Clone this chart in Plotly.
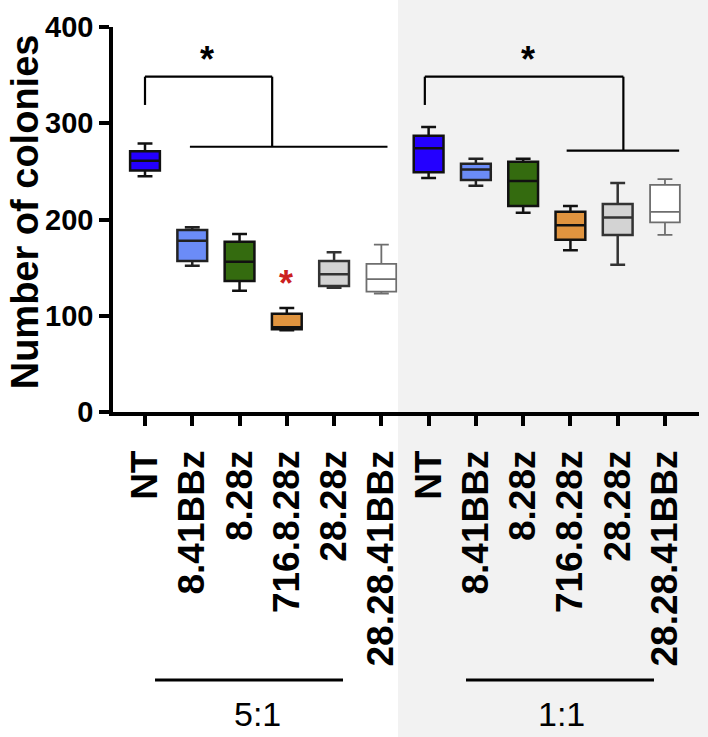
import plotly.graph_objects as go

# Colony counts per construct (5:1 group first, then 1:1)
labels = ['NT', '8.41BBz', '8.28z', '716.8.28z', '28.28z', '28.28.41BBz',
          'NT', '8.41BBz', '8.28z', '716.8.28z', '28.28z', '28.28.41BBz']
lower = [245, 152, 126, 85, 129, 123, 243, 235, 207, 168, 153, 184]
q1 = [251, 157, 136, 86, 131, 125, 249, 241, 214, 179, 184, 197]
median = [261, 178, 156, 88, 143, 138, 274, 252, 240, 194, 202, 208]
q3 = [271, 189, 177, 102, 157, 154, 287, 258, 260, 208, 216, 236]
upper = [279, 192, 185, 108, 166, 174, 296, 263, 263, 214, 238, 242]

ratios = ['5:1', '1:1']

fills = ['#2400ff', '#6b8cf7', '#346b0f', '#e0943f', '#d3d3d3', '#ffffff'] * 2
edges = ['#111111', '#222222', '#111111', '#111111', '#333333', '#6e6e6e'] * 2

fig = go.Figure()

# one box trace per construct so each gets its own colour
for i in range(len(labels)):
    fig.add_trace(go.Box(x=[i], q1=[q1[i]], median=[median[i]], q3=[q3[i]],
                         lowerfence=[lower[i]], upperfence=[upper[i]],
                         width=0.63, whiskerwidth=0.5,
                         fillcolor=fills[i],
                         line=dict(color=edges[i], width=2.5 if i % 6 != 5 else 1.8),
                         boxpoints=False, hoverinfo='skip', showlegend=False))

# grey panel behind the 1:1 group
fig.add_shape(type='rect', xref='paper', yref='paper',
              x0=0.4863, x1=1.02, y0=-0.85, y1=1.08,
              fillcolor='#f2f2f2', line_width=0, layer='below')

# significance brackets
bracket = dict(color='black', width=2.2)
for x0, x1, xl0, xl1, yl in [(0, 2.69, 0.95, 5.13, 275.6), (5.92, 10.12, 8.92, 11.30, 271.5)]:
    fig.add_shape(type='line', x0=x0, x1=x0, y0=319, y1=348.4, line=bracket)
    fig.add_shape(type='line', x0=x0, x1=x1, y0=348.4, y1=348.4, line=bracket)
    fig.add_shape(type='line', x0=x1, x1=x1, y0=348.4, y1=yl, line=bracket)
    fig.add_shape(type='line', x0=xl0, x1=xl1, y0=yl, y1=yl, line=bracket)

star_font = dict(family='Liberation Sans, Arial', size=36, color='black', weight='bold')
fig.add_annotation(x=1.305, y=371, text='*', showarrow=False, font=star_font, yshift=-5)
fig.add_annotation(x=8.11, y=371, text='*', showarrow=False, font=star_font, yshift=-5)
fig.add_annotation(x=2.975, y=137, text='*', showarrow=False,
                   font=dict(star_font, color='#cc1f1f'), yshift=-3)

# group underlines and ratio labels
for x0, x1, xt, txt in [(0.0717, 0.3925, 0.2474, ratios[0]), (0.6024, 0.9232, 0.766, ratios[1])]:
    fig.add_shape(type='line', xref='paper', yref='paper', x0=x0, x1=x1,
                  y0=-0.696, y1=-0.696, line=dict(color='black', width=3))
    fig.add_annotation(xref='paper', yref='paper', x=xt, y=-0.785, text=txt,
                       xanchor='center', yanchor='middle', showarrow=False,
                       font=dict(family='Liberation Sans, Arial', size=34, color='black'))

# y axis title (kept just inside the left edge)
fig.add_annotation(xref='paper', yref='paper', x=-0.150, y=0.519, text='Number of colonies',
                   textangle=-90, xanchor='center', yanchor='middle', showarrow=False,
                   font=dict(family='Liberation Sans, Arial', size=38, color='black', weight='bold'))

fig.update_xaxes(range=[-0.677, 11.72], tickvals=list(range(len(labels))), ticktext=labels,
                 tickangle=-90, showline=True, linewidth=3.5, linecolor='black',
                 ticks='outside', ticklen=10, tickwidth=3.5, tickcolor='black',
                 showgrid=False, zeroline=False, ticklabelstandoff=10,
                 tickfont=dict(family='Liberation Sans, Arial', size=37, color='black', weight='bold'))
fig.update_yaxes(range=[0, 400], tickvals=[0, 100, 200, 300, 400],
                 showline=True, linewidth=3.5, linecolor='black',
                 ticks='outside', ticklen=10, tickwidth=3.5, tickcolor='black',
                 showgrid=False, zeroline=False,
                 tickfont=dict(family='Liberation Sans, Arial', size=29, color='black', weight='bold'))

fig.update_layout(width=708, height=737, margin=dict(l=113, r=9, t=27, b=325),
                  paper_bgcolor='white', plot_bgcolor='rgba(0,0,0,0)')

# drop the default body margin so the figure fills the window
fig.write_html('out.html', config={'displayModeBar': False},
               post_script="document.body.style.margin='0';")
